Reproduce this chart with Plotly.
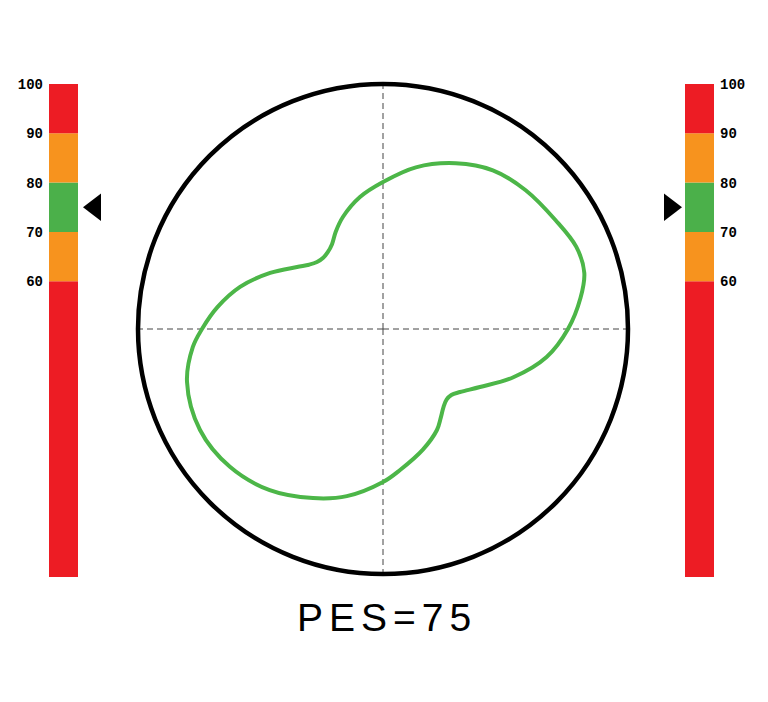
import plotly.graph_objects as go

# green polar curve (angle in degrees, radius on a 0-245 scale)
curve_theta = [0, 9, 15.6, 23, 32.2, 44.2, 55.3, 66.3, 78.5, 90, 99.9, 109.7,
               116, 121, 125.9, 130, 134.6, 139, 144.2, 153.6, 163.6, 172.5,
               180, 185.4, 195.1, 208.9, 222, 234.9, 247.5, 257.8, 270, 276.9,
               288.3, 298.1, 303, 308, 312, 316, 320.7, 329.1, 339.7, 350.3, 360]
curve_r = [185, 200, 209, 210, 204, 199, 193, 181, 165, 147, 134, 119,
           108, 99, 94.5, 93, 94, 98, 106, 126, 149, 167,
           181, 191, 203, 209, 206, 197, 183, 171, 153, 142,
           127, 114.5, 106, 98.5, 95, 95, 99.5, 113, 139, 166, 185]
r_max = 245

# colour scale bars
band_lo = [0, 60, 70, 80, 90]
band_hi = [60, 70, 80, 90, 100]
band_colors = ['#ed1c24', '#f7931e', '#4bb04a', '#f7931e', '#ed1c24']
tick_vals = [60, 70, 80, 90, 100]
pes = 75

W, H = 768, 702


def fx(px):
    return px / W


def fy(px):
    return (H - px) / H


band_len = [h - l for l, h in zip(band_lo, band_hi)]

fig = go.Figure()

fig.add_trace(go.Scatterpolar(
    r=curve_r, theta=curve_theta, mode='lines',
    line=dict(color='#4cb648', width=4, shape='spline', smoothing=1),
    hoverinfo='skip', showlegend=False,
))

# left bar + marker
fig.add_trace(go.Bar(
    x=[14.5] * 5, y=band_len, base=band_lo, width=29,
    marker=dict(color=band_colors, line=dict(width=0)),
    xaxis='x', yaxis='y', showlegend=False, hoverinfo='skip',
))
fig.add_trace(go.Scatter(
    x=[46], y=[pes], mode='markers', cliponaxis=False,
    marker=dict(symbol='triangle-left', size=24, color='black'),
    xaxis='x', yaxis='y', showlegend=False, hoverinfo='skip',
))

# right bar + marker
fig.add_trace(go.Bar(
    x=[35.5] * 5, y=band_len, base=band_lo, width=29,
    marker=dict(color=band_colors, line=dict(width=0)),
    xaxis='x3', yaxis='y3', showlegend=False, hoverinfo='skip',
))
fig.add_trace(go.Scatter(
    x=[6], y=[pes], mode='markers', cliponaxis=False,
    marker=dict(symbol='triangle-right', size=24, color='black'),
    xaxis='x3', yaxis='y3', showlegend=False, hoverinfo='skip',
))

tick_font = dict(family='Liberation Mono', size=14, color='black', weight='bold')
bar_y_domain = [fy(577), fy(84)]

fig.update_layout(
    width=W, height=H, showlegend=False,
    margin=dict(l=0, r=0, t=0, b=0, pad=0, autoexpand=False),
    paper_bgcolor='white', plot_bgcolor='rgba(0,0,0,0)',
    polar=dict(
        domain=dict(x=[fx(138), fx(628)], y=[fy(574), fy(84)]),
        bgcolor='white',
        radialaxis=dict(range=[0, r_max], visible=False),
        angularaxis=dict(
            rotation=0, direction='counterclockwise',
            showline=True, linecolor='black', linewidth=4.5,
            showgrid=True, gridcolor='#444444', gridwidth=1, griddash='6px,4px',
            tickvals=[0, 90, 180, 270], showticklabels=False, ticks='',
        ),
    ),
    xaxis=dict(domain=[fx(49), fx(101)], range=[0, 52], visible=False),
    yaxis=dict(domain=bar_y_domain, range=[0, 100], anchor='x', side='left',
               tickvals=tick_vals, ticks='', showgrid=False, zeroline=False,
               showline=False, tickfont=tick_font, ticklabelstandoff=5,
               automargin=False),
    xaxis3=dict(domain=[fx(664), fx(714)], range=[0, 50], visible=False),
    yaxis3=dict(domain=bar_y_domain, range=[0, 100], anchor='x3', side='right',
                tickvals=tick_vals, ticks='', showgrid=False, zeroline=False,
                showline=False, tickfont=tick_font, ticklabelstandoff=5,
                automargin=False),
    annotations=[dict(
        x=fx(387), y=fy(617), xref='paper', yref='paper',
        xanchor='center', yanchor='middle', showarrow=False,
        text=f'<span style="letter-spacing:6px">PES={pes}</span>',
        font=dict(family='Liberation Sans', size=39, color='black'),
    )],
)

# drop the default page margin so the plot sits at the window corner
fig.write_html("out.html", config={'displayModeBar': False},
               post_script="document.body.style.margin='0';")
